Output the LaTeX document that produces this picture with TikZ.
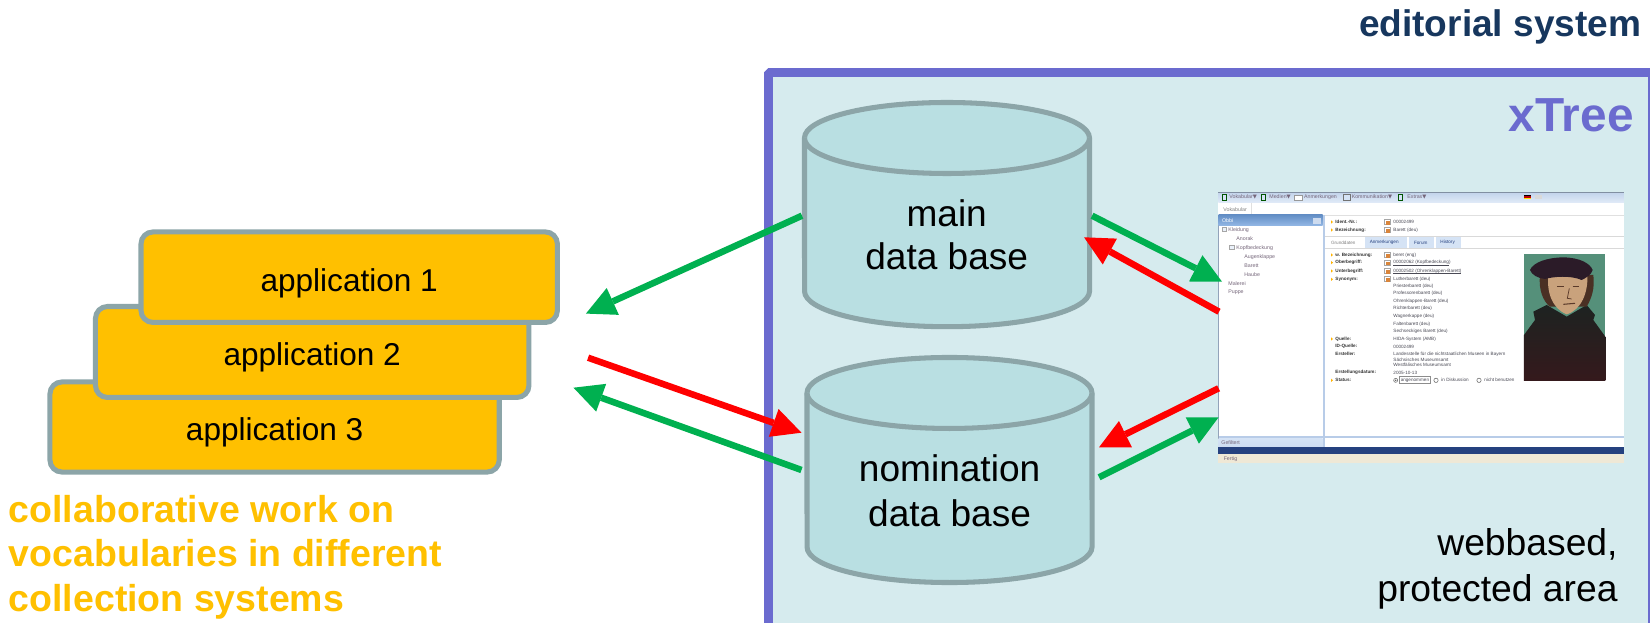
\documentclass[tikz,border=0pt]{standalone}
\usepackage{fontspec}
\setmainfont{Liberation Sans}
\newfontfamily\symfont{DejaVu Sans}
\usetikzlibrary{calc,arrows.meta}
\definecolor{panelfill}{HTML}{D6EBEE}
\definecolor{panelline}{HTML}{6B6BCF}
\definecolor{dbfill}{HTML}{B9DFE2}
\definecolor{greyline}{HTML}{8CA5A8}
\definecolor{appfill}{HTML}{FFC000}
\definecolor{navy}{HTML}{17375E}
\definecolor{arrowgreen}{HTML}{00B050}
\definecolor{arrowred}{HTML}{FF0000}
\definecolor{treetext}{HTML}{75667A}
\definecolor{valtext}{HTML}{4A4A55}
\definecolor{barblue}{HTML}{25417F}
\definecolor{paneline}{HTML}{B8CCE8}
\definecolor{tabblue}{HTML}{D5E3F5}
\definecolor{headblue}{HTML}{6F9FDC}
\definecolor{statusbar}{HTML}{EFE8D6}
\definecolor{noteorange}{HTML}{D9853B}
\definecolor{portbg}{HTML}{55907A}
\definecolor{porthat}{HTML}{2B1B28}
\definecolor{porthair}{HTML}{4A3024}
\definecolor{portface}{HTML}{C9A27C}
\definecolor{portrobetop}{HTML}{1D2321}
\definecolor{portrobebot}{HTML}{35191C}
\definecolor{portline}{HTML}{5A3A2A}
\newcounter{stc}
\newcommand\stx[4][]{\stepcounter{stc}\node[shottext,#1] (st\arabic{stc}) at (#2,#3) {#4};}
\newcommand\dbcyl[1]{%
  \filldraw[dbline] ($(#1.north west)+(0,35.5)$) arc[start angle=180,end angle=360,x radius=142.5,y radius=35.5]
    -- ($(#1.south east)+(0,-35.5)$) arc[start angle=0,end angle=180,x radius=142.5,y radius=35.5] -- cycle;
  \draw[dbline] ($(#1.north west)+(0,35.5)$) arc[start angle=180,end angle=0,x radius=142.5,y radius=35.5];}
\tikzset{
  frame/.style={inner sep=0pt,outer sep=0pt},
  dbline/.style={draw=greyline,fill=dbfill,line width=2.4pt},
  dbtext/.style={inner sep=0pt,align=center,text=black},
  appbox/.style={draw=greyline,fill=appfill,line width=2.4pt,rounded corners=5.7pt,inner sep=0pt,outer sep=1.2pt,
    font=\fontsize{15}{18}\selectfont,text=black,text height=14.5pt,text depth=1.3pt},
  flowgreen/.style={line width=3.1pt,draw=arrowgreen,-{Triangle[length=14pt,width=14pt,fill=arrowgreen,line width=0pt]}},
  flowred/.style={line width=3.1pt,draw=arrowred,-{Triangle[length=14pt,width=14pt,fill=arrowred,line width=0pt]}},
  shottext/.style={anchor=west,inner sep=0pt,font=\fontsize{2.2}{2.6}\selectfont,text=valtext},
  treeitem/.style={font=\fontsize{2.5}{3}\selectfont,text=treetext},
  toolitem/.style={font=\fontsize{2.5}{3}\selectfont,text=treetext},
  fieldlabel/.style={font=\bfseries\fontsize{2.2}{2.6}\selectfont,text=black!80},
}
\begin{document}
\begin{tikzpicture}[x=0.475pt,y=-0.475pt]
\useasboundingbox (0,0) rectangle (1650,623);
\fill[white] (0,0) rectangle (1650,623);

% editorial panel
\begin{scope}
  \clip (0,0) rectangle (1650,623);
  \draw[fill=panelfill,draw=panelline,line width=4.37pt,line join=bevel] (768.7,72.6) rectangle (1652.5,660);
\end{scope}
\node[anchor=base east,inner sep=0pt,font=\bfseries\fontsize{17.6}{21}\selectfont,text=navy] (title) at (1641.6,37) {editorial system};
\node[anchor=base east,inner sep=0pt,font=\bfseries\fontsize{22.7}{27}\selectfont,text=panelline] (xtree) at (1634,131.5) {xTree};
\node[anchor=east,inner sep=0pt,align=right,font=\fontsize{17.7}{22}\selectfont,text=black] (area) at (1618,568.7) {webbased,\\protected area};

% applications
\node[appbox,minimum width=213.4pt,minimum height=42.8pt] (app3) at (274.6,427) {application 3};
\node[appbox,minimum width=205.9pt,minimum height=43.2pt] (app2) at (312.2,352) {application 2};
\node[appbox,minimum width=197.8pt,minimum height=43pt] (app1) at (349.2,277.2) {application 1};
\node[anchor=west,inner sep=0pt,align=left,font=\bfseries\fontsize{17.8}{21.1}\selectfont,text=appfill] (collab) at (8.4,556.9)
  {collaborative work on\\vocabularies in different\\collection systems};

% data bases
\node[frame,minimum width=135.4pt,minimum height=106.5pt] (main) at (947,214.6) {};
\node[frame,minimum width=135.4pt,minimum height=106.9pt] (nomination) at (949.5,470) {};
\dbcyl{main}
\dbcyl{nomination}
\node[dbtext,font=\fontsize{17.6}{20.6}\selectfont] (mainlabel) at (946.7,234.8) {main\\data base};
\node[dbtext,font=\fontsize{17.6}{21.2}\selectfont] (nomlabel) at (949.6,490.8) {nomination\\data base};

% screenshot
\node[frame,minimum width=192.7pt,minimum height=128.7pt] (shot) at (1421.15,327.8) {};
\begin{scope}[shift={(1150,175)},x=0.15833pt,y=-0.15833pt]
  \fill[white] (205,52) rectangle (1422,865);
  \shade[top color=paneline!85!white,bottom color=tabblue!70!white] (205,52) rectangle (1422,84);
  \draw[paneline!70!black,line width=0.3pt] (205,52) -- (1422,52);
  \draw[black!12,line width=0.3pt] (205,120) -- (1422,120);
  \draw[black!12,line width=0.2pt] (305,84) -- (305,120);
  % left pane
  \fill[paneline] (518,120) rectangle (525,783);
  \draw[paneline!80!black,line width=0.4pt] (206,120) -- (206,817);
  \shade[top color=headblue!90!black,bottom color=headblue!75!white] (206,120) rectangle (518,152);
  \fill[paneline!70!white] (490,128) rectangle (514,146);
  \fill[paneline] (206,783) rectangle (1422,790);
  \shade[top color=tabblue,bottom color=tabblue!70!paneline] (206,790) rectangle (518,817);
  \fill[paneline] (518,790) rectangle (525,817);
  \fill[barblue] (205,817) rectangle (1422,838);
  \fill[statusbar] (205,838) rectangle (1422,865);
  % toolbar icons
  \foreach \ix in {222,340,752} \draw[black!45!green!60!black,line width=0.3pt,fill=tabblue] (\ix-6,58) rectangle (\ix+6,76);
  \draw[black!40,fill=white,line width=0.3pt] (434,60) rectangle (456,76);
  \draw[black!55,fill=tabblue,line width=0.3pt] (580,57) rectangle (600,77);
  \fill[black] (1122,60) rectangle (1143,64.5); \fill[red!75!black] (1122,64.5) rectangle (1143,69); \fill[yellow!80!orange] (1122,69) rectangle (1143,73);
  \fill[black!15] (1155,60) rectangle (1176,73);
  % tabs
  \fill[tabblue] (645,184) rectangle (770,220);
  \fill[tabblue] (778,184) rectangle (852,220);
  \fill[tabblue] (857,184) rectangle (934,220);
  \draw[black!15,line width=0.3pt] (525,183) -- (1422,183);
  \draw[black!15,line width=0.3pt] (525,220) -- (1422,220);
  % expanders
  \draw[black!35,fill=tabblue!50,line width=0.3pt] (216,158) rectangle (229,170);
  \draw[black!35,fill=tabblue!50,line width=0.3pt] (239,211) rectangle (252,223);
  % field decorations
  \foreach \iy in {141,165,240,263,288,313,492,616} \fill[appfill!80!orange] (543,\iy-5) -- (549,\iy) -- (543,\iy+5) -- cycle;
  \foreach \iy in {141,165,240,263,288,312} {\draw[black!35,fill=white,line width=0.25pt] (703,\iy-8) rectangle (721,\iy+8); \fill[noteorange] (709,\iy-3) rectangle (721,\iy+8);}
  % underlined values
  \draw[valtext,line width=0.12pt] (729,270) -- (897,270);
  \draw[valtext,line width=0.12pt] (729,295) -- (932,295);
  % status controls
  \draw[black!60,fill=white,line width=0.25pt] (737,616) circle[radius=6];
  \fill[black!60] (737,616) circle[radius=2.6];
  \draw[black!45,fill=white,line width=0.25pt] (748,605) rectangle (842,626);
  \draw[black!60,fill=white,line width=0.25pt] (858,616) circle[radius=6.5];
  \draw[black!60,fill=white,line width=0.25pt] (987,616) circle[radius=6.5];
  % portrait
  \fill[portbg] (1122,237) rectangle (1366,618);
  \shade[top color=portrobetop,bottom color=portrobebot] (1122,480) -- (1155,435) -- (1150,410) -- (1190,390) -- (1250,425) -- (1310,390) -- (1335,420) -- (1330,435) -- (1366,485) -- (1366,618) -- (1122,618) -- cycle;
  \fill[porthair] (1170,300) .. controls (1165,345) and (1180,380) .. (1200,395) -- (1310,395) .. controls (1325,370) and (1335,340) .. (1330,300) -- cycle;
  \fill[portface] (1195,300) .. controls (1190,350) and (1205,400) .. (1250,418) .. controls (1295,405) and (1315,350) .. (1312,300) -- cycle;
  \fill[porthat] (1140,285) .. controls (1150,262) and (1190,248) .. (1240,247) .. controls (1290,248) and (1320,265) .. (1328,285) .. controls (1325,300) and (1305,310) .. (1295,315) .. controls (1260,300) and (1210,305) .. (1185,312) .. controls (1165,310) and (1145,300) .. (1140,285) -- cycle;
  \draw[portline,line width=0.5pt] (1222,335) -- (1242,335);
  \draw[portline,line width=0.5pt] (1268,335) -- (1288,335);
  \draw[portline,line width=0.35pt] (1258,340) -- (1252,370) -- (1265,372);
  \draw[portline,line width=0.5pt] (1240,388) -- (1275,385);
  % toolbar texts
  \stx[toolitem]{237}{66}{Vokabular{\symfont▼}}
  \stx[toolitem]{357}{66}{Medien{\symfont▼}}
  \stx[toolitem]{461}{66}{Anmerkungen}
  \stx[toolitem]{604}{66}{Kommunikation{\symfont▼}}
  \stx[toolitem]{771}{66}{Extras{\symfont▼}}
  \stx[toolitem,text=black!50]{219}{103}{Vokabular}
  \stx[toolitem,text=white]{215}{137}{Obbi}
  \stx[treeitem]{234}{166}{Kleidung}
  \stx[treeitem]{258}{192}{Anorak}
  \stx[treeitem]{258}{219}{Kopfbedeckung}
  \stx[treeitem]{282}{246}{Augenklappe}
  \stx[treeitem]{282}{272}{Barett}
  \stx[treeitem]{282}{299}{Haube}
  \stx[treeitem]{234}{325}{Malerei}
  \stx[treeitem]{234}{352}{Puppe}
  \stx[fieldlabel]{555}{141}{Ident.-Nr.:}
  \stx[fieldlabel]{555}{165}{Bezeichnung:}
  \stx{729}{141}{00002499}
  \stx{729}{165}{Barett (deu)}
  \stx[text=black!50]{542}{203}{Grunddaten}
  \stx[text=barblue]{658}{203}{Anmerkungen}
  \stx[text=barblue]{791}{203}{Forum}
  \stx[text=barblue]{870}{203}{History}
  \stx[fieldlabel]{555}{240}{w. Bezeichnung:}
  \stx[fieldlabel]{555}{263}{Oberbegriff:}
  \stx[fieldlabel]{555}{288}{Unterbegriff:}
  \stx[fieldlabel]{555}{313}{Synonym:}
  \stx[fieldlabel]{555}{492}{Quelle:}
  \stx[fieldlabel]{555}{515}{ID-Quelle:}
  \stx[fieldlabel]{555}{537}{Ersteller:}
  \stx[fieldlabel]{555}{593}{Erstellungsdatum:}
  \stx[fieldlabel]{555}{616}{Status:}
  \stx{729}{240}{beret (eng)}
  \stx{729}{263}{00002062 (Kopfbedeckung)}
  \stx{729}{288}{00002502 (Ohrenklappen-Barett)}
  \stx{729}{312}{Lutherbarett (deu)}
  \stx{729}{334}{Priesterbarett (deu)}
  \stx{729}{355}{Professorenbarett (deu)}
  \stx{729}{378}{Ohrenklappen-Barett (deu)}
  \stx{729}{401}{Richterbarett (deu)}
  \stx{729}{424}{Wagnerkappe (deu)}
  \stx{729}{447}{Faltenbarett (deu)}
  \stx{729}{470}{Sechseckiges Barett (deu)}
  \stx{729}{494}{HIDA-System (AMB)}
  \stx{729}{516}{00002499}
  \stx{729}{538}{Landesstelle für die nichtstaatlichen Museen in Bayern}
  \stx{729}{554}{Sächsisches Museumsamt}
  \stx{729}{571}{Westfälisches Museumsamt}
  \stx{729}{594}{2005-10-13}
  \stx{751}{616}{angenommen}
  \stx{873}{616}{in Diskussion}
  \stx{1002}{616}{nicht benutzen}
  \stx[toolitem]{213}{804}{Gefiltert}
  \stx[toolitem]{220}{852}{Fertig}
\end{scope}

% connectors
\draw[flowgreen] ($(main.west)+(-2.5,1.1)$) -- ($(app1.east)+(26,36.4)$);
\draw[flowgreen] ($(main.east)+(2.5,1.1)$) -- ($(shot.west)+(3.7,-46.1)$);
\draw[flowred] ($(shot.west)+(0.7,-16.1)$) -- ($(main.east)+(-5.5,22.7)$);
\draw[flowred] ($(app2.east)+(56.6,5.7)$) -- ($(nomination.west)+(-5.5,-37.3)$);
\draw[flowgreen] ($(nomination.west)+(-5.5,0)$) -- ($(app2.east)+(42,35.7)$);
\draw[flowred] ($(shot.west)+(0.3,60.5)$) -- ($(nomination.east)+(7,-22.7)$);
\draw[flowgreen] ($(nomination.east)+(7,7.3)$) -- ($(shot.west)+(0.3,89.5)$);
\end{tikzpicture}
\end{document}
